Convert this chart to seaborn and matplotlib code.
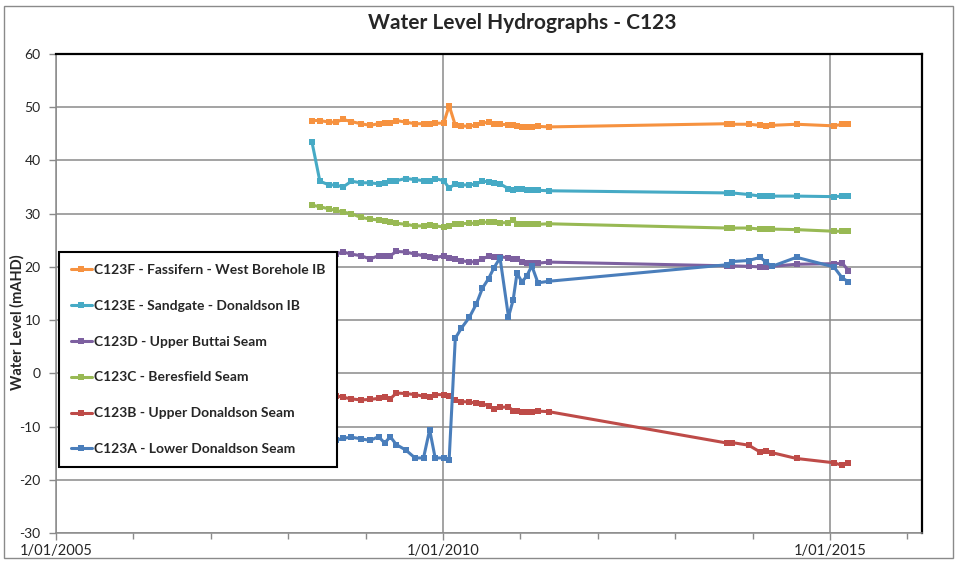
import pandas as pd
import matplotlib.pyplot as plt
import matplotlib.dates as mdates
from matplotlib.patches import Rectangle
import seaborn as sns

# sampling dates (shared by all bores)
dates = ['2008-04-23', '2008-05-30', '2008-07-12', '2008-08-14', '2008-09-16', '2008-10-26',
         '2008-12-09', '2009-01-22', '2009-03-03', '2009-04-01', '2009-04-27', '2009-05-26',
         '2009-07-09', '2009-08-22', '2009-10-01', '2009-10-30', '2009-11-25', '2010-01-04',
         '2010-01-30', '2010-02-28', '2010-03-29', '2010-05-05', '2010-06-07', '2010-07-06',
         '2010-08-04', '2010-08-29', '2010-09-27', '2010-11-06', '2010-11-28', '2010-12-16',
         '2011-01-08', '2011-01-30', '2011-02-24', '2011-03-25', '2011-05-15', '2013-09-02',
         '2013-09-24', '2013-12-13', '2014-02-06', '2014-03-04', '2014-04-02', '2014-07-27',
         '2015-01-19', '2015-02-28', '2015-03-29']

c123f = [47.5, 47.5, 47.2, 47.2, 47.7, 47.3, 46.9, 46.6, 46.9, 47.0, 47.1, 47.5, 47.2, 46.9, 46.9,
         46.9, 47.0, 47.0, 50.3, 46.6, 46.5, 46.4, 46.7, 47.0, 47.2, 46.9, 46.8, 46.7, 46.6, 46.4,
         46.3, 46.3, 46.2, 46.4, 46.3, 46.9, 46.8, 46.8, 46.6, 46.5, 46.6, 46.8, 46.5, 46.8, 46.8]
c123e = [43.4, 36.1, 35.4, 35.4, 35.0, 36.1, 35.8, 35.8, 35.6, 35.8, 36.1, 36.2, 36.6, 36.4, 36.2,
         36.2, 36.6, 36.2, 34.8, 35.6, 35.4, 35.4, 35.6, 36.1, 36.0, 35.8, 35.6, 34.7, 34.4, 34.7,
         34.6, 34.4, 34.4, 34.4, 34.3, 33.9, 33.9, 33.6, 33.3, 33.3, 33.3, 33.3, 33.2, 33.3, 33.3]
c123d = [22.5, 22.3, 22.3, 22.4, 22.8, 22.4, 22.1, 21.5, 22.1, 22.0, 22.1, 22.9, 22.8, 22.4, 22.1,
         21.9, 21.7, 22.1, 21.7, 21.5, 21.2, 20.9, 21.0, 21.5, 22.0, 21.9, 21.9, 21.7, 21.5, 21.5,
         21.0, 20.7, 20.8, 20.7, 20.9, 20.2, 20.2, 20.1, 20.0, 19.9, 20.1, 20.5, 20.6, 20.7, 19.3]
c123c = [31.6, 31.3, 30.9, 30.6, 30.3, 30.0, 29.3, 29.0, 28.8, 28.7, 28.5, 28.2, 28.0, 27.7, 27.7,
         27.8, 27.7, 27.5, 27.6, 28.1, 28.1, 28.2, 28.2, 28.4, 28.4, 28.5, 28.3, 28.3, 28.9, 28.1,
         28.1, 28.1, 28.1, 28.0, 28.1, 27.3, 27.3, 27.3, 27.1, 27.1, 27.1, 27.0, 26.7, 26.7, 26.7]
c123b = [-3.3, -3.5, -3.7, -4.2, -4.5, -4.8, -5.0, -4.9, -4.7, -4.4, -4.8, -3.7, -3.8, -4.0, -4.3,
         -4.5, -4.0, -4.0, -4.2, -5.1, -5.3, -5.4, -5.6, -5.7, -6.1, -6.7, -6.4, -6.3, -7.0, -7.1,
         -7.3, -7.3, -7.2, -7.1, -7.2, -13.1, -13.0, -13.5, -14.8, -14.6, -14.9, -16.0, -16.8, -17.3, -16.8]
c123a = [-8.5, -8.8, -9.0, -12.6, -12.2, -12.0, -12.3, -12.6, -11.9, -13.1, -11.9, -13.4, -14.4, -15.9, -15.9,
         -10.6, -15.9, -15.9, -16.2, 6.6, 8.5, 10.5, 13.0, 16.0, 17.8, 19.8, 21.7, 10.6, 13.8, 18.8,
         17.2, 18.2, 20.2, 17.0, 17.3, 20.4, 21.0, 21.2, 21.8, 20.9, 20.1, 21.8, 20.0, 17.9, 17.2]

series_names = ['C123F - Fassifern - West Borehole IB',
                'C123E - Sandgate - Donaldson IB',
                'C123D - Upper Buttai Seam',
                'C123C - Beresfield Seam',
                'C123B - Upper Donaldson Seam',
                'C123A - Lower Donaldson Seam']
colours = ['#F69240', '#46AAC5', '#7D60A0', '#98B954', '#BE4B48', '#4A7EBB']

W, H = 958, 563


def main():
    sns.set_style('white')
    plt.rcParams['font.family'] = ['Lato', 'DejaVu Sans']
    plt.rcParams['axes.unicode_minus'] = False

    df = pd.DataFrame({'date': pd.to_datetime(dates)})
    for name, vals in zip(series_names, [c123f, c123e, c123d, c123c, c123b, c123a]):
        df[name] = vals
    long = df.melt(id_vars='date', var_name='series', value_name='level')

    fig = plt.figure(figsize=(W / 100, H / 100), dpi=100)
    ax = fig.add_axes([56 / W, 30 / H, 866 / W, 479 / H])

    sns.lineplot(data=long, x='date', y='level', hue='series', hue_order=series_names,
                 palette=colours, marker='s', markersize=5, markeredgewidth=0,
                 linewidth=2.2, estimator=None, ax=ax)

    ax.set_xlim(pd.Timestamp('2005-01-01'), pd.Timestamp('2016-03-10'))
    ax.set_ylim(-30, 60)
    ax.set_yticks(range(-30, 61, 10))
    ax.xaxis.set_major_locator(mdates.YearLocator(5))
    ax.xaxis.set_minor_locator(mdates.YearLocator(1))
    ax.xaxis.set_major_formatter(mdates.DateFormatter('%-d/%m/%Y'))

    grid_col = '#8A8A8A'
    ax.grid(True, which='major', color=grid_col, linewidth=1.1)
    ax.tick_params(axis='both', which='major', direction='out', length=5, color=grid_col, width=1)
    ax.tick_params(axis='x', which='major', labelsize=10.5, pad=3)
    ax.tick_params(axis='y', which='major', labelsize=10, pad=6)
    ax.tick_params(axis='x', which='minor', direction='out', length=4, color=grid_col, width=1)
    ax.tick_params(axis='x', which='both', bottom=True)
    ax.tick_params(axis='y', left=True)

    for side in ['top', 'right']:
        ax.spines[side].set_color('black')
        ax.spines[side].set_linewidth(1.6)
    for side in ['left', 'bottom']:
        ax.spines[side].set_color(grid_col)
        ax.spines[side].set_linewidth(1.1)

    ax.set_xlabel('')
    ax.set_ylabel('Water Level (mAHD)', fontsize=10.5, fontweight='bold')
    ax.yaxis.set_label_coords(-0.0358, 0.44)

    handles = ax.get_lines()[:len(series_names)]
    ax.legend(handles, series_names, loc='upper left',
              bbox_to_anchor=(59 / W, 1 - 252 / H), bbox_transform=fig.transFigure,
              borderaxespad=0, frameon=True, fancybox=False, framealpha=1,
              edgecolor='black', prop={'weight': 'bold', 'size': 10},
              handlelength=1.5, handletextpad=0.15, labelspacing=1.72, borderpad=0.85,
              numpoints=1)
    ax.get_legend().get_frame().set_linewidth(1.5)

    fig.text(522 / W, 1 - 23 / H, 'Water Level Hydrographs - C123', ha='center', va='center',
             fontsize=15, fontweight='bold')

    fig.patches.append(Rectangle((4 / W, 5 / H), 949 / W, 552 / H, transform=fig.transFigure,
                                 fill=False, edgecolor='#8A8A8A', linewidth=1))

    fig.savefig('out.png', dpi=100)
    plt.close(fig)


if __name__ == "__main__":
    main()
